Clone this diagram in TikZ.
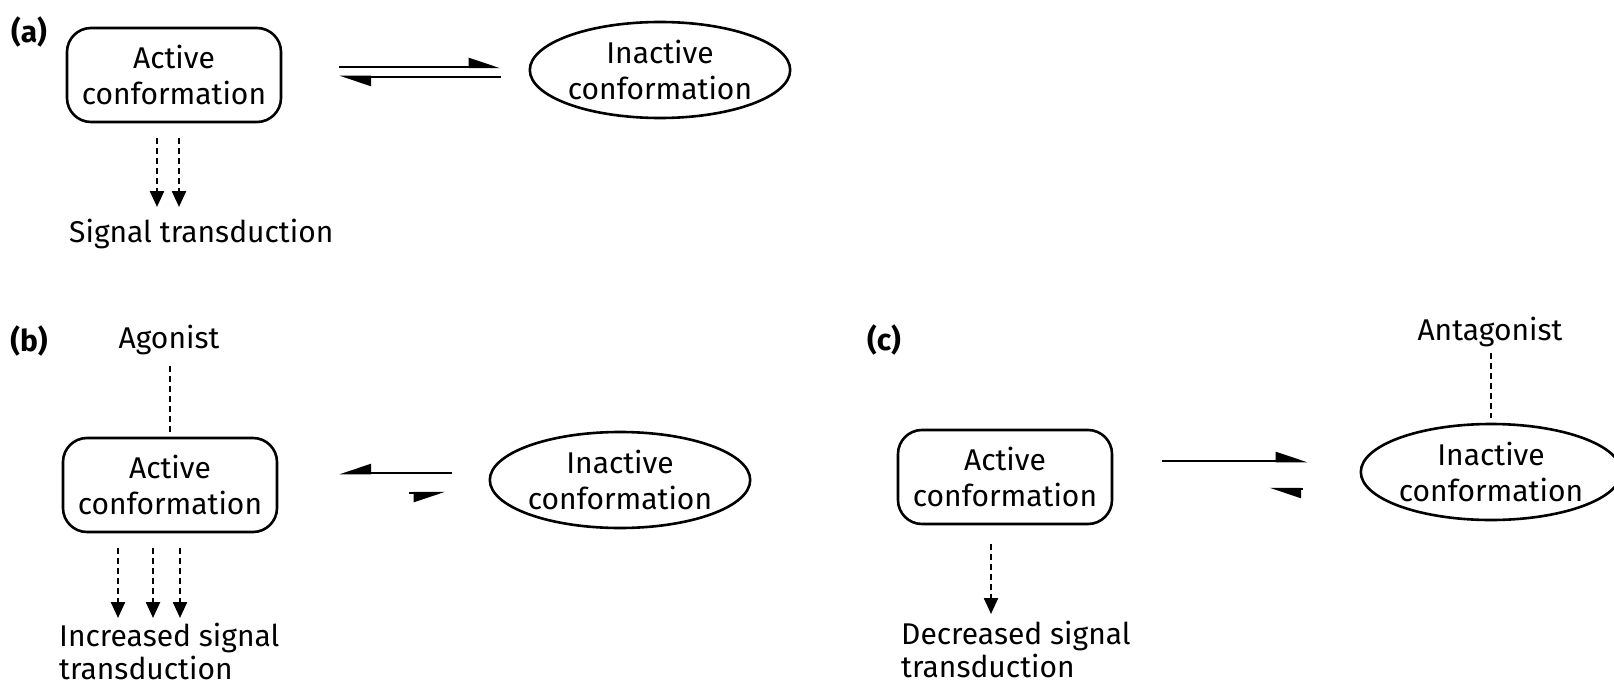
\documentclass[tikz,border=0pt]{standalone}
\usepackage{fontspec}
\setmainfont{Fira Sans}
\usetikzlibrary{arrows.meta,shapes.geometric,calc}

\begin{document}
\begin{tikzpicture}[x=1pt,y=-1pt,
  every node/.style={font=\fontsize{30}{36}\selectfont, inner sep=0pt},
  activebox/.style={draw, line width=2.6pt, rounded corners=24pt,
    minimum width=214pt, minimum height=94pt, align=center},
  inactiveell/.style={draw, line width=2.6pt, ellipse,
    minimum width=240pt, minimum height=96pt, align=center},
  panel/.style={font=\fontsize{30}{36}\selectfont\bfseries},
  caption/.style={anchor=north west, align=left, font=\fontsize{30}{33}\selectfont},
  dasharr/.style={line width=2.4pt, dash pattern=on 6pt off 4pt,
    -{Triangle[width=14pt,length=16pt]}},
  dashlink/.style={line width=2.4pt, dash pattern=on 6pt off 4pt},
  eqarr/.style={line width=2.5pt, -{Triangle[harpoon,width=18pt,length=28pt]}},
  eqarrsw/.style={line width=2.5pt, -{Triangle[harpoon,swap,width=18pt,length=28pt]}},
]
\useasboundingbox (0,0) rectangle (1614,685);

% ---------- (a) ----------
\node[panel] (la) at (29,32) {(a)};
\node[activebox] (boxA) at (174,75) {Active\\conformation};
\node[inactiveell] (ellA) at (660,70) {Inactive\\conformation};
\node[caption] (sigA) at (69,219) {Signal transduction};

\draw[eqarr, shorten <=57pt, shorten >=28pt]
  ([yshift=8pt]boxA.east) -- ([yshift=8pt]boxA.east -| ellA.west);
\draw[eqarr, shorten <=28pt, shorten >=57pt]
  ([yshift=-2pt]boxA.east -| ellA.west) -- ([yshift=-2pt]boxA.east);
\draw[dasharr, shorten <=15pt, shorten >=12pt]
  ([xshift=-17pt]boxA.south) -- ([xshift=-17pt]boxA.south |- sigA.north);
\draw[dasharr, shorten <=15pt, shorten >=12pt]
  ([xshift=5pt]boxA.south) -- ([xshift=5pt]boxA.south |- sigA.north);

% ---------- (b) ----------
\node[panel] (lb) at (29,341) {(b)};
\node (ago) at (169,340) {Agonist};
\node[activebox] (boxB) at (170,485) {Active\\conformation};
\node[inactiveell] (ellB) at (620,480) {Inactive\\conformation};
\node[caption] (sigB) at (59,623) {Increased signal\\transduction};

\draw[dashlink, shorten <=11pt, shorten >=5pt] (boxB.north |- ago.south) -- (boxB.north);
\draw[eqarrsw, shorten <=37pt, shorten >=61pt]
  ([yshift=12pt]boxB.east -| ellB.west) -- ([yshift=12pt]boxB.east);
\draw[eqarrsw, shorten <=131pt, shorten >=43pt]
  ([yshift=-8pt]boxB.east) -- ([yshift=-8pt]boxB.east -| ellB.west);
\foreach \dx in {-52,-17,10}
  \draw[dasharr, shorten <=15pt, shorten >=5pt]
    ([xshift=\dx pt]boxB.south) -- ([xshift=\dx pt]boxB.south |- sigB.north);

% ---------- (c) ----------
\node[panel] (lc) at (884,340) {(c)};
\node (antago) at (1490,332) {Antagonist};
\node[activebox] (boxC) at (1005,477) {Active\\conformation};
\node[inactiveell] (ellC) at (1491,472) {Inactive\\conformation};
\node[caption] (sigC) at (901,621) {Decreased signal\\transduction};

\draw[dashlink, shorten <=6pt, shorten >=5pt] (ellC.north |- antago.south) -- (ellC.north);
\draw[eqarr, shorten <=49pt, shorten >=52pt]
  ([yshift=16pt]boxC.east) -- ([yshift=16pt]boxC.east -| ellC.west);
\draw[eqarr, shorten <=57pt, shorten >=156pt]
  ([yshift=-12pt]boxC.east -| ellC.west) -- ([yshift=-12pt]boxC.east);
\draw[dasharr, shorten <=19pt, shorten >=7pt]
  ([xshift=-14pt]boxC.south) -- ([xshift=-14pt]boxC.south |- sigC.north);
\end{tikzpicture}
\end{document}
